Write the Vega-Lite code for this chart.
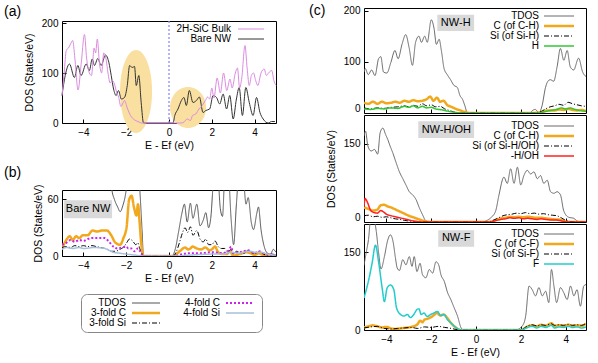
{
"$schema": "https://vega.github.io/schema/vega-lite/v6.json",
"padding": {"left": 3, "top": 3, "right": 2, "bottom": 2},
"config": {
  "font": "Liberation Sans",
  "view": {"stroke": "#000", "strokeWidth": 1},
  "axis": {"domain": false, "grid": false, "tickColor": "#000", "tickSize": -4, "labelPadding": 8, "labelFontSize": 10, "labelColor": "#000", "titleFontSize": 10.5, "titleFontWeight": "normal", "titleColor": "#000"},
  "legend": {"labelFontSize": 10, "labelColor": "#000"},
  "title": {"fontSize": 14, "fontWeight": "normal", "anchor": "start", "color": "#000", "frame": "group"}
},
"resolve": {"scale": {"x": "independent", "y": "independent", "color": "independent", "strokeDash": "independent", "strokeWidth": "independent"}},
"spacing": 29,
"hconcat": [
 {
  "vconcat": [
   {
    "vconcat": [
     {"width": 214, "height": 1, "view": {"stroke": null}, "data": {"values": [{}]}, "mark": {"type": "rect", "opacity": 0}, "encoding": {}},
     {
      "title": {"text": "(a)", "dx": -58, "offset": -1},
      "width": 214, "height": 102,
      "layer": [
       {"data": {"values": [{}]},
        "mark": {"type": "point", "shape": "M0.386,0C0.386,0.552 0.213,1 0,1C-0.213,1 -0.386,0.552 -0.386,0C-0.386,-0.552 -0.213,-1 0,-1C0.213,-1 0.386,-0.552 0.386,0Z", "filled": true, "color": "#f9e0a0", "opacity": 1, "size": 6889, "strokeWidth": 0},
        "encoding": {
          "x": {"datum": -1.54, "type": "quantitative", "scale": {"domain": [-5, 5], "nice": false}, "axis": {"values": [-4, -2, 0, 2, 4], "title": "E - Ef (eV)", "titlePadding": 3}},
          "y": {"datum": 63, "type": "quantitative", "scale": {"domain": [0, 204], "nice": false}, "axis": {"values": [0, 50, 100, 150, 200], "title": "DOS (States/eV)", "titlePadding": 7}}}},
       {"data": {"values": [{}]},
        "mark": {"type": "point", "shape": "M0.878,0C0.878,0.552 0.485,1 0,1C-0.485,1 -0.878,0.552 -0.878,0C-0.878,-0.552 -0.485,-1 0,-1C0.485,-1 0.878,-0.552 0.878,0Z", "filled": true, "color": "#f9e0a0", "opacity": 1, "size": 1681, "strokeWidth": 0},
        "encoding": {"x": {"datum": 0.89, "type": "quantitative"}, "y": {"datum": 31, "type": "quantitative"}}},
       {"data": {"values": [{}]},
        "mark": {"type": "rule", "color": "#8a8aff", "strokeDash": [2, 2], "strokeWidth": 1.3},
        "encoding": {"x": {"datum": 0, "type": "quantitative"}}},
       {"data": {"name": "a"},
        "mark": {"type": "line", "interpolate": "monotone", "strokeWidth": 1},
        "encoding": {
          "x": {"field": "x", "type": "quantitative"},
          "y": {"field": "y", "type": "quantitative"},
          "color": {"field": "s", "type": "nominal", "scale": {"domain": ["2H-SiC Bulk", "Bare NW"], "range": ["#dc8ce0", "#333333"]},
            "legend": {"title": null, "orient": "none", "legendX": 112, "legendY": 3, "labelAlign": "right", "labelOffset": -25, "symbolOffset": 72, "symbolSize": 49, "symbolType": "M-3.714,0L3.714,0", "rowPadding": 0, "symbolStrokeWidth": 1}}}}
      ]
     }
    ],
    "spacing": -5,
    "resolve": {"scale": {"x": "independent", "y": "independent", "color": "independent"}}
   },
   {
    "title": {"text": "(b)", "dx": -58, "offset": 4},
    "width": 214, "height": 66,
    "layer": [
     {"data": {"values": [{}]},
      "mark": {"type": "rule", "color": "#6f6fff", "strokeDash": [2, 2], "strokeWidth": 1},
      "encoding": {
        "x": {"datum": 0, "type": "quantitative", "scale": {"domain": [-5, 5], "nice": false}, "axis": {"values": [-4, -2, 0, 2, 4], "title": "E - Ef (eV)", "titlePadding": 3}},
        "y": {"datum": 0, "type": "quantitative", "scale": {"domain": [0, 70], "nice": false}, "axis": {"values": [0, 20, 40, 60], "title": "DOS (States/eV)", "titlePadding": 3}}}},
     {"data": {"name": "b"},
      "mark": {"type": "line", "interpolate": "monotone", "clip": true},
      "encoding": {
        "x": {"field": "x", "type": "quantitative"},
        "y": {"field": "y", "type": "quantitative"},
        "color": {"field": "s", "type": "nominal", "scale": {"domain": ["TDOS", "3-fold C", "3-fold Si", "4-fold C", "4-fold Si"], "range": ["#555555", "#f2a81d", "#000000", "#cc22ee", "#a9c0dc"]},
          "legend": {"title": null, "orient": "none", "legendX": 19, "legendY": 104, "columns": 2, "columnPadding": 14, "labelAlign": "right", "labelOffset": -25, "symbolOffset": 56, "symbolSize": 49, "symbolType": "M-4,0L4,0", "rowPadding": -2, "padding": 4, "strokeColor": "#888888", "cornerRadius": 6, "fillColor": "#ffffff"}},
        "strokeDash": {"field": "s", "type": "nominal", "scale": {"domain": ["TDOS", "3-fold C", "3-fold Si", "4-fold C", "4-fold Si"], "range": [[1, 0], [1, 0], [5, 2, 1, 2], [2, 2], [1, 0]]},
          "legend": {"title": null, "orient": "none", "legendX": 19, "legendY": 104, "columns": 2, "columnPadding": 14, "labelAlign": "right", "labelOffset": -25, "symbolOffset": 56, "symbolSize": 49, "symbolType": "M-4,0L4,0", "rowPadding": -2, "padding": 4, "strokeColor": "#888888", "cornerRadius": 6, "fillColor": "#ffffff"}},
        "strokeWidth": {"field": "s", "type": "nominal", "scale": {"type": "ordinal", "domain": ["TDOS", "3-fold C", "3-fold Si", "4-fold C", "4-fold Si"], "range": [1, 2.5, 1, 2, 1.5]},
          "legend": {"title": null, "orient": "none", "legendX": 19, "legendY": 104, "columns": 2, "columnPadding": 14, "labelAlign": "right", "labelOffset": -25, "symbolOffset": 56, "symbolSize": 49, "symbolType": "M-4,0L4,0", "rowPadding": -2, "padding": 4, "strokeColor": "#888888", "cornerRadius": 6, "fillColor": "#ffffff"}}}},
     {"data": {"values": [{}]},
      "mark": {"type": "rect", "color": "#d9d9d9"},
      "encoding": {"x": {"datum": -4.9, "type": "quantitative"}, "x2": {"datum": -2.66}, "y": {"datum": 59, "type": "quantitative"}, "y2": {"datum": 40}}},
     {"data": {"values": [{}]},
      "mark": {"type": "text", "fontSize": 11, "color": "#000"},
      "encoding": {"x": {"datum": -3.78, "type": "quantitative"}, "y": {"datum": 49.5, "type": "quantitative"}, "text": {"value": "Bare NW"}}}
    ]
   }
  ],
  "spacing": 14,
  "resolve": {"scale": {"x": "independent", "y": "independent", "color": "independent", "strokeDash": "independent", "strokeWidth": "independent"}}
 },
 {
  "vconcat": [
   {
    "width": 222, "height": 105,
    "layer": [
     {"data": {"values": [{}]},
      "mark": {"type": "rule", "color": "#8a8aff", "strokeDash": [2, 2], "strokeWidth": 1},
      "encoding": {
        "x": {"datum": 0, "type": "quantitative", "scale": {"domain": [-5, 4.9], "nice": false}, "axis": {"values": [-4, -2, 0, 2, 4], "labels": false, "title": null, "labelPadding": 0}},
        "y": {"datum": 0, "type": "quantitative", "scale": {"domain": [0, 205], "nice": false}, "axis": {"values": [0, 50, 100, 150, 200], "title": null, "labelFlush": true, "labelFlushOffset": 0}}}},
     {"data": {"values": [{}]},
      "mark": {"type": "text", "fontSize": 14, "align": "left", "baseline": "middle", "color": "#000"},
      "encoding": {"x": {"datum": -7.45, "type": "quantitative"}, "y": {"datum": 199, "type": "quantitative"}, "text": {"value": "(c)"}}},
     {"data": {"name": "c1"},
      "mark": {"type": "line", "interpolate": "monotone", "clip": true},
      "encoding": {
        "x": {"field": "x", "type": "quantitative"},
        "y": {"field": "y", "type": "quantitative"},
        "color": {"field": "s", "type": "nominal", "scale": {"domain": ["TDOS", "C (of C-H)", "Si (of Si-H)", "H"], "range": ["#6a6a6a", "#f2a81d", "#000000", "#33c633"]},
          "legend": {"title": null, "orient": "none", "legendX": 105, "legendY": 3, "labelAlign": "right", "labelOffset": -25, "symbolOffset": 85, "symbolSize": 49, "symbolType": "M-4.286,0L4.286,0", "rowPadding": -1}},
        "strokeDash": {"field": "s", "type": "nominal", "scale": {"domain": ["TDOS", "C (of C-H)", "Si (of Si-H)", "H"], "range": [[1, 0], [1, 0], [5, 2, 1, 2], [1, 0]]},
          "legend": {"title": null, "orient": "none", "legendX": 105, "legendY": 3, "labelAlign": "right", "labelOffset": -25, "symbolOffset": 85, "symbolSize": 49, "symbolType": "M-4.286,0L4.286,0", "rowPadding": -1}},
        "strokeWidth": {"field": "s", "type": "nominal", "scale": {"type": "ordinal", "domain": ["TDOS", "C (of C-H)", "Si (of Si-H)", "H"], "range": [1, 2.5, 1, 1.5]},
          "legend": {"title": null, "orient": "none", "legendX": 105, "legendY": 3, "labelAlign": "right", "labelOffset": -25, "symbolOffset": 85, "symbolSize": 49, "symbolType": "M-4.286,0L4.286,0", "rowPadding": -1}}}},
     {"data": {"values": [{}]},
      "mark": {"type": "rect", "color": "#d9d9d9"},
      "encoding": {"x": {"datum": -1.73, "type": "quantitative"}, "x2": {"datum": -0.09}, "y": {"datum": 192, "type": "quantitative"}, "y2": {"datum": 160}}},
     {"data": {"values": [{}]},
      "mark": {"type": "text", "fontSize": 11, "color": "#000"},
      "encoding": {"x": {"datum": -0.91, "type": "quantitative"}, "y": {"datum": 176, "type": "quantitative"}, "text": {"value": "NW-H"}}}
    ]
   },
   {
    "width": 222, "height": 107,
    "layer": [
     {"data": {"values": [{}]},
      "mark": {"type": "rule", "color": "#8a8aff", "strokeDash": [2, 2], "strokeWidth": 1},
      "encoding": {
        "x": {"datum": 0, "type": "quantitative", "scale": {"domain": [-5, 4.9], "nice": false}, "axis": {"values": [-4, -2, 0, 2, 4], "labels": false, "title": null, "labelPadding": 0}},
        "y": {"datum": 0, "type": "quantitative", "scale": {"domain": [0, 205], "nice": false}, "axis": {"values": [0, 50, 100, 150], "title": "DOS (States/eV)", "titlePadding": 7, "labelFlush": true, "labelFlushOffset": 0}}}},
     {"data": {"name": "c2"},
      "mark": {"type": "line", "interpolate": "monotone", "clip": true},
      "encoding": {
        "x": {"field": "x", "type": "quantitative"},
        "y": {"field": "y", "type": "quantitative"},
        "color": {"field": "s", "type": "nominal", "scale": {"domain": ["TDOS", "C (of C-H)", "Si (of Si-H/OH)", "-H/OH"], "range": ["#6a6a6a", "#f2a81d", "#000000", "#ff2020"]},
          "legend": {"title": null, "orient": "none", "legendX": 105, "legendY": 6, "labelAlign": "right", "labelOffset": -25, "symbolOffset": 85, "symbolSize": 49, "symbolType": "M-4.286,0L4.286,0", "rowPadding": 0}},
        "strokeDash": {"field": "s", "type": "nominal", "scale": {"domain": ["TDOS", "C (of C-H)", "Si (of Si-H/OH)", "-H/OH"], "range": [[1, 0], [1, 0], [5, 2, 1, 2], [1, 0]]},
          "legend": {"title": null, "orient": "none", "legendX": 105, "legendY": 6, "labelAlign": "right", "labelOffset": -25, "symbolOffset": 85, "symbolSize": 49, "symbolType": "M-4.286,0L4.286,0", "rowPadding": 0}},
        "strokeWidth": {"field": "s", "type": "nominal", "scale": {"type": "ordinal", "domain": ["TDOS", "C (of C-H)", "Si (of Si-H/OH)", "-H/OH"], "range": [1, 2.5, 1, 1.5]},
          "legend": {"title": null, "orient": "none", "legendX": 105, "legendY": 6, "labelAlign": "right", "labelOffset": -25, "symbolOffset": 85, "symbolSize": 49, "symbolType": "M-4.286,0L4.286,0", "rowPadding": 0}}}},
     {"data": {"values": [{}]},
      "mark": {"type": "rect", "color": "#d9d9d9"},
      "encoding": {"x": {"datum": -2.58, "type": "quantitative"}, "x2": {"datum": -0.09}, "y": {"datum": 193, "type": "quantitative"}, "y2": {"datum": 161}}},
     {"data": {"values": [{}]},
      "mark": {"type": "text", "fontSize": 11, "color": "#000"},
      "encoding": {"x": {"datum": -1.33, "type": "quantitative"}, "y": {"datum": 177, "type": "quantitative"}, "text": {"value": "NW-H/OH"}}}
    ]
   },
   {
    "width": 222, "height": 106,
    "layer": [
     {"data": {"values": [{}]},
      "mark": {"type": "rule", "color": "#8a8aff", "strokeDash": [2, 2], "strokeWidth": 1},
      "encoding": {
        "x": {"datum": 0, "type": "quantitative", "scale": {"domain": [-5, 4.9], "nice": false}, "axis": {"values": [-4, -2, 0, 2, 4], "title": "E - Ef (eV)", "titlePadding": 3}},
        "y": {"datum": 0, "type": "quantitative", "scale": {"domain": [0, 205], "nice": false}, "axis": {"values": [0, 50, 100, 150], "title": null}}}},
     {"data": {"name": "c3"},
      "mark": {"type": "line", "interpolate": "monotone", "clip": true},
      "encoding": {
        "x": {"field": "x", "type": "quantitative"},
        "y": {"field": "y", "type": "quantitative"},
        "color": {"field": "s", "type": "nominal", "scale": {"domain": ["TDOS", "C (of C-F)", "Si (of Si-F)", "F"], "range": ["#6a6a6a", "#f2a81d", "#000000", "#22cccc"]},
          "legend": {"title": null, "orient": "none", "legendX": 105, "legendY": 5, "labelAlign": "right", "labelOffset": -25, "symbolOffset": 85, "symbolSize": 49, "symbolType": "M-4.286,0L4.286,0", "rowPadding": 0}},
        "strokeDash": {"field": "s", "type": "nominal", "scale": {"domain": ["TDOS", "C (of C-F)", "Si (of Si-F)", "F"], "range": [[1, 0], [1, 0], [5, 2, 1, 2], [1, 0]]},
          "legend": {"title": null, "orient": "none", "legendX": 105, "legendY": 5, "labelAlign": "right", "labelOffset": -25, "symbolOffset": 85, "symbolSize": 49, "symbolType": "M-4.286,0L4.286,0", "rowPadding": 0}},
        "strokeWidth": {"field": "s", "type": "nominal", "scale": {"type": "ordinal", "domain": ["TDOS", "C (of C-F)", "Si (of Si-F)", "F"], "range": [1, 2.5, 1, 1.5]},
          "legend": {"title": null, "orient": "none", "legendX": 105, "legendY": 5, "labelAlign": "right", "labelOffset": -25, "symbolOffset": 85, "symbolSize": 49, "symbolType": "M-4.286,0L4.286,0", "rowPadding": 0}}}},
     {"data": {"values": [{}]},
      "mark": {"type": "rect", "color": "#d9d9d9"},
      "encoding": {"x": {"datum": -1.69, "type": "quantitative"}, "x2": {"datum": -0.09}, "y": {"datum": 193, "type": "quantitative"}, "y2": {"datum": 161}}},
     {"data": {"values": [{}]},
      "mark": {"type": "text", "fontSize": 11, "color": "#000"},
      "encoding": {"x": {"datum": -0.89, "type": "quantitative"}, "y": {"datum": 177, "type": "quantitative"}, "text": {"value": "NW-F"}}}
    ]
   }
  ],
  "spacing": 0,
  "resolve": {"scale": {"x": "independent", "y": "independent", "color": "independent", "strokeDash": "independent", "strokeWidth": "independent"}}
 }
],
"datasets": {
 "a": [
  {"x":-5.0,"y":55,"s":"Bare NW"},{"x":-4.85,"y":95,"s":"Bare NW"},{"x":-4.65,"y":118,"s":"Bare NW"},{"x":-4.42,"y":91,"s":"Bare NW"},{"x":-4.26,"y":115,"s":"Bare NW"},{"x":-4.11,"y":95,"s":"Bare NW"},{"x":-3.87,"y":118,"s":"Bare NW"},{"x":-3.72,"y":105,"s":"Bare NW"},{"x":-3.59,"y":128,"s":"Bare NW"},{"x":-3.48,"y":115,"s":"Bare NW"},{"x":-3.33,"y":129,"s":"Bare NW"},{"x":-3.17,"y":115,"s":"Bare NW"},{"x":-2.97,"y":136,"s":"Bare NW"},{"x":-2.81,"y":121,"s":"Bare NW"},{"x":-2.7,"y":95,"s":"Bare NW"},{"x":-2.59,"y":68,"s":"Bare NW"},{"x":-2.47,"y":55,"s":"Bare NW"},{"x":-2.36,"y":65,"s":"Bare NW"},{"x":-2.23,"y":48,"s":"Bare NW"},{"x":-2.08,"y":51,"s":"Bare NW"},{"x":-1.95,"y":75,"s":"Bare NW"},{"x":-1.84,"y":115,"s":"Bare NW"},{"x":-1.72,"y":111,"s":"Bare NW"},{"x":-1.61,"y":113,"s":"Bare NW"},{"x":-1.53,"y":75,"s":"Bare NW"},{"x":-1.41,"y":95,"s":"Bare NW"},{"x":-1.3,"y":41,"s":"Bare NW"},{"x":-1.19,"y":0,"s":"Bare NW"},{"x":0.19,"y":0,"s":"Bare NW"},{"x":0.27,"y":15,"s":"Bare NW"},{"x":0.42,"y":28,"s":"Bare NW"},{"x":0.58,"y":45,"s":"Bare NW"},{"x":0.7,"y":51,"s":"Bare NW"},{"x":0.81,"y":35,"s":"Bare NW"},{"x":0.95,"y":65,"s":"Bare NW"},{"x":1.12,"y":41,"s":"Bare NW"},{"x":1.28,"y":45,"s":"Bare NW"},{"x":1.42,"y":52,"s":"Bare NW"},{"x":1.59,"y":21,"s":"Bare NW"},{"x":1.72,"y":25,"s":"Bare NW"},{"x":1.9,"y":28,"s":"Bare NW"},{"x":2.06,"y":55,"s":"Bare NW"},{"x":2.22,"y":51,"s":"Bare NW"},{"x":2.37,"y":38,"s":"Bare NW"},{"x":2.53,"y":58,"s":"Bare NW"},{"x":2.69,"y":28,"s":"Bare NW"},{"x":2.84,"y":55,"s":"Bare NW"},{"x":3.0,"y":8,"s":"Bare NW"},{"x":3.15,"y":48,"s":"Bare NW"},{"x":3.28,"y":71,"s":"Bare NW"},{"x":3.43,"y":15,"s":"Bare NW"},{"x":3.59,"y":71,"s":"Bare NW"},{"x":3.75,"y":41,"s":"Bare NW"},{"x":3.93,"y":15,"s":"Bare NW"},{"x":4.09,"y":51,"s":"Bare NW"},{"x":4.25,"y":21,"s":"Bare NW"},{"x":4.4,"y":8,"s":"Bare NW"},{"x":4.64,"y":0,"s":"Bare NW"},{"x":4.79,"y":3,"s":"Bare NW"},{"x":4.95,"y":3,"s":"Bare NW"},
  {"x":-5.0,"y":55,"s":"2H-SiC Bulk"},{"x":-4.9,"y":100,"s":"2H-SiC Bulk"},{"x":-4.8,"y":145,"s":"2H-SiC Bulk"},{"x":-4.7,"y":150,"s":"2H-SiC Bulk"},{"x":-4.6,"y":158,"s":"2H-SiC Bulk"},{"x":-4.5,"y":165,"s":"2H-SiC Bulk"},{"x":-4.4,"y":130,"s":"2H-SiC Bulk"},{"x":-4.25,"y":66,"s":"2H-SiC Bulk"},{"x":-4.1,"y":120,"s":"2H-SiC Bulk"},{"x":-3.95,"y":177,"s":"2H-SiC Bulk"},{"x":-3.85,"y":130,"s":"2H-SiC Bulk"},{"x":-3.72,"y":100,"s":"2H-SiC Bulk"},{"x":-3.62,"y":95,"s":"2H-SiC Bulk"},{"x":-3.5,"y":150,"s":"2H-SiC Bulk"},{"x":-3.43,"y":140,"s":"2H-SiC Bulk"},{"x":-3.35,"y":168,"s":"2H-SiC Bulk"},{"x":-3.25,"y":120,"s":"2H-SiC Bulk"},{"x":-3.15,"y":100,"s":"2H-SiC Bulk"},{"x":-3.05,"y":140,"s":"2H-SiC Bulk"},{"x":-2.95,"y":130,"s":"2H-SiC Bulk"},{"x":-2.85,"y":100,"s":"2H-SiC Bulk"},{"x":-2.75,"y":80,"s":"2H-SiC Bulk"},{"x":-2.65,"y":85,"s":"2H-SiC Bulk"},{"x":-2.55,"y":78,"s":"2H-SiC Bulk"},{"x":-2.45,"y":62,"s":"2H-SiC Bulk"},{"x":-2.35,"y":51,"s":"2H-SiC Bulk"},{"x":-2.25,"y":33,"s":"2H-SiC Bulk"},{"x":-2.15,"y":40,"s":"2H-SiC Bulk"},{"x":-2.08,"y":45,"s":"2H-SiC Bulk"},{"x":-1.95,"y":30,"s":"2H-SiC Bulk"},{"x":-1.8,"y":15,"s":"2H-SiC Bulk"},{"x":-1.6,"y":6,"s":"2H-SiC Bulk"},{"x":-1.4,"y":2,"s":"2H-SiC Bulk"},{"x":-1.3,"y":0,"s":"2H-SiC Bulk"},{"x":0.6,"y":0,"s":"2H-SiC Bulk"},{"x":0.7,"y":2,"s":"2H-SiC Bulk"},{"x":0.85,"y":8,"s":"2H-SiC Bulk"},{"x":1.0,"y":5,"s":"2H-SiC Bulk"},{"x":1.1,"y":15,"s":"2H-SiC Bulk"},{"x":1.25,"y":18,"s":"2H-SiC Bulk"},{"x":1.4,"y":28,"s":"2H-SiC Bulk"},{"x":1.55,"y":35,"s":"2H-SiC Bulk"},{"x":1.7,"y":45,"s":"2H-SiC Bulk"},{"x":1.8,"y":52,"s":"2H-SiC Bulk"},{"x":1.9,"y":48,"s":"2H-SiC Bulk"},{"x":2.0,"y":70,"s":"2H-SiC Bulk"},{"x":2.1,"y":50,"s":"2H-SiC Bulk"},{"x":2.25,"y":90,"s":"2H-SiC Bulk"},{"x":2.4,"y":60,"s":"2H-SiC Bulk"},{"x":2.55,"y":100,"s":"2H-SiC Bulk"},{"x":2.7,"y":65,"s":"2H-SiC Bulk"},{"x":2.85,"y":88,"s":"2H-SiC Bulk"},{"x":2.95,"y":70,"s":"2H-SiC Bulk"},{"x":3.1,"y":100,"s":"2H-SiC Bulk"},{"x":3.2,"y":110,"s":"2H-SiC Bulk"},{"x":3.3,"y":70,"s":"2H-SiC Bulk"},{"x":3.4,"y":90,"s":"2H-SiC Bulk"},{"x":3.55,"y":155,"s":"2H-SiC Bulk"},{"x":3.65,"y":110,"s":"2H-SiC Bulk"},{"x":3.75,"y":75,"s":"2H-SiC Bulk"},{"x":3.85,"y":95,"s":"2H-SiC Bulk"},{"x":3.95,"y":100,"s":"2H-SiC Bulk"},{"x":4.05,"y":85,"s":"2H-SiC Bulk"},{"x":4.15,"y":75,"s":"2H-SiC Bulk"},{"x":4.3,"y":100,"s":"2H-SiC Bulk"},{"x":4.45,"y":108,"s":"2H-SiC Bulk"},{"x":4.55,"y":95,"s":"2H-SiC Bulk"},{"x":4.65,"y":100,"s":"2H-SiC Bulk"},{"x":4.8,"y":105,"s":"2H-SiC Bulk"},{"x":4.9,"y":85,"s":"2H-SiC Bulk"},{"x":5.0,"y":75,"s":"2H-SiC Bulk"}
 ],
 "b": [
  {"x":-5,"y":110,"s":"TDOS"},{"x":-4.5,"y":120,"s":"TDOS"},{"x":-4,"y":115,"s":"TDOS"},{"x":-3.5,"y":125,"s":"TDOS"},{"x":-3,"y":130,"s":"TDOS"},{"x":-2.8,"y":110,"s":"TDOS"},{"x":-2.68,"y":72,"s":"TDOS"},{"x":-2.55,"y":60,"s":"TDOS"},{"x":-2.4,"y":52,"s":"TDOS"},{"x":-2.28,"y":47,"s":"TDOS"},{"x":-2.15,"y":54,"s":"TDOS"},{"x":-2.05,"y":63,"s":"TDOS"},{"x":-1.97,"y":75,"s":"TDOS"},{"x":-1.8,"y":115,"s":"TDOS"},{"x":-1.6,"y":110,"s":"TDOS"},{"x":-1.45,"y":90,"s":"TDOS"},{"x":-1.37,"y":72,"s":"TDOS"},{"x":-1.3,"y":45,"s":"TDOS"},{"x":-1.26,"y":28,"s":"TDOS"},{"x":-1.19,"y":0,"s":"TDOS"},{"x":0.14,"y":0,"s":"TDOS"},{"x":0.3,"y":8,"s":"TDOS"},{"x":0.45,"y":26,"s":"TDOS"},{"x":0.6,"y":45,"s":"TDOS"},{"x":0.72,"y":55,"s":"TDOS"},{"x":0.85,"y":36,"s":"TDOS"},{"x":1.0,"y":56,"s":"TDOS"},{"x":1.12,"y":40,"s":"TDOS"},{"x":1.3,"y":55,"s":"TDOS"},{"x":1.45,"y":32,"s":"TDOS"},{"x":1.6,"y":38,"s":"TDOS"},{"x":1.72,"y":46,"s":"TDOS"},{"x":1.85,"y":30,"s":"TDOS"},{"x":1.95,"y":40,"s":"TDOS"},{"x":2.1,"y":85,"s":"TDOS"},{"x":2.25,"y":95,"s":"TDOS"},{"x":2.4,"y":50,"s":"TDOS"},{"x":2.5,"y":42,"s":"TDOS"},{"x":2.62,"y":90,"s":"TDOS"},{"x":2.78,"y":85,"s":"TDOS"},{"x":2.9,"y":40,"s":"TDOS"},{"x":3.02,"y":12,"s":"TDOS"},{"x":3.15,"y":55,"s":"TDOS"},{"x":3.3,"y":95,"s":"TDOS"},{"x":3.45,"y":90,"s":"TDOS"},{"x":3.6,"y":55,"s":"TDOS"},{"x":3.7,"y":62,"s":"TDOS"},{"x":3.85,"y":35,"s":"TDOS"},{"x":3.95,"y":28,"s":"TDOS"},{"x":4.1,"y":45,"s":"TDOS"},{"x":4.18,"y":52,"s":"TDOS"},{"x":4.3,"y":28,"s":"TDOS"},{"x":4.45,"y":10,"s":"TDOS"},{"x":4.6,"y":3,"s":"TDOS"},{"x":4.75,"y":2,"s":"TDOS"},{"x":4.87,"y":7,"s":"TDOS"},{"x":5.0,"y":4,"s":"TDOS"},
  {"x":-5,"y":8,"s":"3-fold C"},{"x":-4.8,"y":17,"s":"3-fold C"},{"x":-4.64,"y":21,"s":"3-fold C"},{"x":-4.5,"y":17,"s":"3-fold C"},{"x":-4.34,"y":21,"s":"3-fold C"},{"x":-4.19,"y":19,"s":"3-fold C"},{"x":-4.03,"y":22,"s":"3-fold C"},{"x":-3.8,"y":22,"s":"3-fold C"},{"x":-3.58,"y":27,"s":"3-fold C"},{"x":-3.35,"y":26,"s":"3-fold C"},{"x":-3.12,"y":27,"s":"3-fold C"},{"x":-2.9,"y":27,"s":"3-fold C"},{"x":-2.7,"y":22,"s":"3-fold C"},{"x":-2.5,"y":14,"s":"3-fold C"},{"x":-2.28,"y":12,"s":"3-fold C"},{"x":-2.13,"y":19,"s":"3-fold C"},{"x":-1.98,"y":31,"s":"3-fold C"},{"x":-1.87,"y":59,"s":"3-fold C"},{"x":-1.75,"y":64,"s":"3-fold C"},{"x":-1.64,"y":52,"s":"3-fold C"},{"x":-1.52,"y":43,"s":"3-fold C"},{"x":-1.45,"y":55,"s":"3-fold C"},{"x":-1.37,"y":35,"s":"3-fold C"},{"x":-1.3,"y":14,"s":"3-fold C"},{"x":-1.19,"y":0,"s":"3-fold C"},{"x":0.2,"y":0,"s":"3-fold C"},{"x":0.5,"y":5,"s":"3-fold C"},{"x":0.75,"y":9,"s":"3-fold C"},{"x":0.9,"y":7,"s":"3-fold C"},{"x":1.0,"y":8,"s":"3-fold C"},{"x":1.1,"y":10,"s":"3-fold C"},{"x":1.3,"y":8,"s":"3-fold C"},{"x":1.5,"y":7,"s":"3-fold C"},{"x":1.7,"y":9,"s":"3-fold C"},{"x":1.9,"y":6,"s":"3-fold C"},{"x":2.0,"y":7,"s":"3-fold C"},{"x":2.15,"y":10,"s":"3-fold C"},{"x":2.3,"y":4,"s":"3-fold C"},{"x":2.5,"y":2,"s":"3-fold C"},{"x":2.7,"y":2,"s":"3-fold C"},{"x":2.85,"y":5,"s":"3-fold C"},{"x":3.0,"y":0.5,"s":"3-fold C"},{"x":3.3,"y":2,"s":"3-fold C"},{"x":3.6,"y":4,"s":"3-fold C"},{"x":3.8,"y":3,"s":"3-fold C"},{"x":4.0,"y":1,"s":"3-fold C"},{"x":4.2,"y":3,"s":"3-fold C"},{"x":4.4,"y":1,"s":"3-fold C"},{"x":4.7,"y":0.5,"s":"3-fold C"},{"x":5.0,"y":0.5,"s":"3-fold C"},
  {"x":-5,"y":9,"s":"3-fold Si"},{"x":-4.8,"y":10,"s":"3-fold Si"},{"x":-4.6,"y":9,"s":"3-fold Si"},{"x":-4.4,"y":11,"s":"3-fold Si"},{"x":-4.2,"y":10,"s":"3-fold Si"},{"x":-4.0,"y":11,"s":"3-fold Si"},{"x":-3.8,"y":10,"s":"3-fold Si"},{"x":-3.6,"y":11,"s":"3-fold Si"},{"x":-3.4,"y":10,"s":"3-fold Si"},{"x":-3.2,"y":9,"s":"3-fold Si"},{"x":-3.0,"y":8,"s":"3-fold Si"},{"x":-2.85,"y":7,"s":"3-fold Si"},{"x":-2.7,"y":5,"s":"3-fold Si"},{"x":-2.5,"y":5,"s":"3-fold Si"},{"x":-2.3,"y":7,"s":"3-fold Si"},{"x":-2.1,"y":10,"s":"3-fold Si"},{"x":-1.95,"y":15,"s":"3-fold Si"},{"x":-1.85,"y":18,"s":"3-fold Si"},{"x":-1.7,"y":16,"s":"3-fold Si"},{"x":-1.55,"y":12,"s":"3-fold Si"},{"x":-1.45,"y":14,"s":"3-fold Si"},{"x":-1.37,"y":8,"s":"3-fold Si"},{"x":-1.25,"y":2,"s":"3-fold Si"},{"x":-1.19,"y":0,"s":"3-fold Si"},{"x":0.2,"y":0,"s":"3-fold Si"},{"x":0.35,"y":5,"s":"3-fold Si"},{"x":0.5,"y":15,"s":"3-fold Si"},{"x":0.62,"y":24,"s":"3-fold Si"},{"x":0.75,"y":30,"s":"3-fold Si"},{"x":0.87,"y":25,"s":"3-fold Si"},{"x":1.0,"y":31,"s":"3-fold Si"},{"x":1.12,"y":22,"s":"3-fold Si"},{"x":1.3,"y":27,"s":"3-fold Si"},{"x":1.45,"y":18,"s":"3-fold Si"},{"x":1.6,"y":15,"s":"3-fold Si"},{"x":1.72,"y":18,"s":"3-fold Si"},{"x":1.85,"y":12,"s":"3-fold Si"},{"x":2.0,"y":12,"s":"3-fold Si"},{"x":2.15,"y":16,"s":"3-fold Si"},{"x":2.3,"y":10,"s":"3-fold Si"},{"x":2.45,"y":8,"s":"3-fold Si"},{"x":2.6,"y":8,"s":"3-fold Si"},{"x":2.75,"y":4,"s":"3-fold Si"},{"x":2.9,"y":7,"s":"3-fold Si"},{"x":3.0,"y":2,"s":"3-fold Si"},{"x":3.15,"y":5,"s":"3-fold Si"},{"x":3.3,"y":4,"s":"3-fold Si"},{"x":3.5,"y":3,"s":"3-fold Si"},{"x":3.7,"y":6,"s":"3-fold Si"},{"x":3.9,"y":3,"s":"3-fold Si"},{"x":4.1,"y":4,"s":"3-fold Si"},{"x":4.25,"y":5,"s":"3-fold Si"},{"x":4.4,"y":2,"s":"3-fold Si"},{"x":4.6,"y":1,"s":"3-fold Si"},{"x":4.8,"y":2,"s":"3-fold Si"},{"x":5.0,"y":1,"s":"3-fold Si"},
  {"x":-5,"y":12,"s":"4-fold C"},{"x":-4.8,"y":14,"s":"4-fold C"},{"x":-4.6,"y":17,"s":"4-fold C"},{"x":-4.4,"y":15,"s":"4-fold C"},{"x":-4.2,"y":17,"s":"4-fold C"},{"x":-4.0,"y":16,"s":"4-fold C"},{"x":-3.8,"y":18,"s":"4-fold C"},{"x":-3.6,"y":19,"s":"4-fold C"},{"x":-3.4,"y":19,"s":"4-fold C"},{"x":-3.2,"y":19,"s":"4-fold C"},{"x":-3.0,"y":19,"s":"4-fold C"},{"x":-2.8,"y":15,"s":"4-fold C"},{"x":-2.6,"y":10,"s":"4-fold C"},{"x":-2.4,"y":8,"s":"4-fold C"},{"x":-2.2,"y":9,"s":"4-fold C"},{"x":-2.0,"y":10,"s":"4-fold C"},{"x":-1.9,"y":8,"s":"4-fold C"},{"x":-1.75,"y":8,"s":"4-fold C"},{"x":-1.6,"y":5,"s":"4-fold C"},{"x":-1.45,"y":8,"s":"4-fold C"},{"x":-1.35,"y":5,"s":"4-fold C"},{"x":-1.2,"y":0,"s":"4-fold C"},{"x":0.3,"y":0,"s":"4-fold C"},{"x":0.6,"y":2,"s":"4-fold C"},{"x":1.0,"y":3,"s":"4-fold C"},{"x":1.5,"y":3,"s":"4-fold C"},{"x":2.0,"y":4,"s":"4-fold C"},{"x":2.5,"y":3,"s":"4-fold C"},{"x":2.8,"y":6,"s":"4-fold C"},{"x":2.9,"y":10,"s":"4-fold C"},{"x":3.0,"y":3,"s":"4-fold C"},{"x":3.3,"y":4,"s":"4-fold C"},{"x":3.7,"y":6,"s":"4-fold C"},{"x":4.0,"y":3,"s":"4-fold C"},{"x":4.2,"y":5,"s":"4-fold C"},{"x":4.5,"y":2,"s":"4-fold C"},{"x":5.0,"y":1,"s":"4-fold C"},
  {"x":-5,"y":7,"s":"4-fold Si"},{"x":-4.8,"y":9,"s":"4-fold Si"},{"x":-4.5,"y":8,"s":"4-fold Si"},{"x":-4.2,"y":9,"s":"4-fold Si"},{"x":-4.0,"y":8,"s":"4-fold Si"},{"x":-3.5,"y":9,"s":"4-fold Si"},{"x":-3.0,"y":8,"s":"4-fold Si"},{"x":-2.8,"y":6,"s":"4-fold Si"},{"x":-2.6,"y":4,"s":"4-fold Si"},{"x":-2.3,"y":3,"s":"4-fold Si"},{"x":-2.0,"y":2,"s":"4-fold Si"},{"x":-1.6,"y":1,"s":"4-fold Si"},{"x":-1.2,"y":0,"s":"4-fold Si"},{"x":0.3,"y":0,"s":"4-fold Si"},{"x":1.0,"y":1,"s":"4-fold Si"},{"x":2.0,"y":2,"s":"4-fold Si"},{"x":2.5,"y":2,"s":"4-fold Si"},{"x":2.9,"y":4,"s":"4-fold Si"},{"x":3.2,"y":3,"s":"4-fold Si"},{"x":3.5,"y":4,"s":"4-fold Si"},{"x":3.8,"y":5,"s":"4-fold Si"},{"x":4.0,"y":4,"s":"4-fold Si"},{"x":4.3,"y":4,"s":"4-fold Si"},{"x":4.6,"y":2,"s":"4-fold Si"},{"x":5.0,"y":1,"s":"4-fold Si"}
 ],
 "c1": [
  {"x":-5,"y":80,"s":"TDOS"},{"x":-4.95,"y":87,"s":"TDOS"},{"x":-4.81,"y":75,"s":"TDOS"},{"x":-4.66,"y":84,"s":"TDOS"},{"x":-4.51,"y":73,"s":"TDOS"},{"x":-4.35,"y":106,"s":"TDOS"},{"x":-4.25,"y":110,"s":"TDOS"},{"x":-4.13,"y":80,"s":"TDOS"},{"x":-3.98,"y":78,"s":"TDOS"},{"x":-3.8,"y":99,"s":"TDOS"},{"x":-3.62,"y":122,"s":"TDOS"},{"x":-3.48,"y":106,"s":"TDOS"},{"x":-3.3,"y":135,"s":"TDOS"},{"x":-3.14,"y":153,"s":"TDOS"},{"x":-2.99,"y":128,"s":"TDOS"},{"x":-2.84,"y":93,"s":"TDOS"},{"x":-2.7,"y":138,"s":"TDOS"},{"x":-2.55,"y":150,"s":"TDOS"},{"x":-2.44,"y":138,"s":"TDOS"},{"x":-2.29,"y":150,"s":"TDOS"},{"x":-2.18,"y":138,"s":"TDOS"},{"x":-2.0,"y":182,"s":"TDOS"},{"x":-1.88,"y":166,"s":"TDOS"},{"x":-1.77,"y":134,"s":"TDOS"},{"x":-1.65,"y":144,"s":"TDOS"},{"x":-1.55,"y":122,"s":"TDOS"},{"x":-1.43,"y":87,"s":"TDOS"},{"x":-1.29,"y":75,"s":"TDOS"},{"x":-1.14,"y":65,"s":"TDOS"},{"x":-0.99,"y":54,"s":"TDOS"},{"x":-0.84,"y":50,"s":"TDOS"},{"x":-0.72,"y":34,"s":"TDOS"},{"x":-0.61,"y":27,"s":"TDOS"},{"x":-0.5,"y":14,"s":"TDOS"},{"x":-0.39,"y":0,"s":"TDOS"},{"x":2.41,"y":0,"s":"TDOS"},{"x":2.49,"y":4,"s":"TDOS"},{"x":2.64,"y":7,"s":"TDOS"},{"x":2.79,"y":1,"s":"TDOS"},{"x":2.94,"y":14,"s":"TDOS"},{"x":3.09,"y":49,"s":"TDOS"},{"x":3.2,"y":62,"s":"TDOS"},{"x":3.31,"y":65,"s":"TDOS"},{"x":3.46,"y":62,"s":"TDOS"},{"x":3.61,"y":90,"s":"TDOS"},{"x":3.76,"y":126,"s":"TDOS"},{"x":3.91,"y":103,"s":"TDOS"},{"x":4.06,"y":122,"s":"TDOS"},{"x":4.2,"y":90,"s":"TDOS"},{"x":4.35,"y":84,"s":"TDOS"},{"x":4.57,"y":107,"s":"TDOS"},{"x":4.75,"y":80,"s":"TDOS"},{"x":4.9,"y":71,"s":"TDOS"},
  {"x":-5,"y":20,"s":"C (of C-H)"},{"x":-4.8,"y":18,"s":"C (of C-H)"},{"x":-4.6,"y":22,"s":"C (of C-H)"},{"x":-4.4,"y":18,"s":"C (of C-H)"},{"x":-4.2,"y":22,"s":"C (of C-H)"},{"x":-4.0,"y":19,"s":"C (of C-H)"},{"x":-3.8,"y":20,"s":"C (of C-H)"},{"x":-3.6,"y":22,"s":"C (of C-H)"},{"x":-3.4,"y":20,"s":"C (of C-H)"},{"x":-3.2,"y":24,"s":"C (of C-H)"},{"x":-3.0,"y":22,"s":"C (of C-H)"},{"x":-2.8,"y":25,"s":"C (of C-H)"},{"x":-2.6,"y":23,"s":"C (of C-H)"},{"x":-2.4,"y":24,"s":"C (of C-H)"},{"x":-2.2,"y":27,"s":"C (of C-H)"},{"x":-2.05,"y":32,"s":"C (of C-H)"},{"x":-1.9,"y":24,"s":"C (of C-H)"},{"x":-1.75,"y":30,"s":"C (of C-H)"},{"x":-1.6,"y":22,"s":"C (of C-H)"},{"x":-1.45,"y":24,"s":"C (of C-H)"},{"x":-1.3,"y":16,"s":"C (of C-H)"},{"x":-1.1,"y":12,"s":"C (of C-H)"},{"x":-0.9,"y":8,"s":"C (of C-H)"},{"x":-0.7,"y":5,"s":"C (of C-H)"},{"x":-0.5,"y":2,"s":"C (of C-H)"},{"x":-0.3,"y":0,"s":"C (of C-H)"},{"x":2.5,"y":0,"s":"C (of C-H)"},{"x":2.8,"y":1,"s":"C (of C-H)"},{"x":3.0,"y":3,"s":"C (of C-H)"},{"x":3.2,"y":5,"s":"C (of C-H)"},{"x":3.5,"y":5,"s":"C (of C-H)"},{"x":3.7,"y":7,"s":"C (of C-H)"},{"x":3.9,"y":6,"s":"C (of C-H)"},{"x":4.1,"y":8,"s":"C (of C-H)"},{"x":4.3,"y":6,"s":"C (of C-H)"},{"x":4.5,"y":5,"s":"C (of C-H)"},{"x":4.7,"y":6,"s":"C (of C-H)"},{"x":4.9,"y":4,"s":"C (of C-H)"},
  {"x":-5,"y":10,"s":"Si (of Si-H)"},{"x":-4.7,"y":8,"s":"Si (of Si-H)"},{"x":-4.4,"y":10,"s":"Si (of Si-H)"},{"x":-4.1,"y":9,"s":"Si (of Si-H)"},{"x":-3.8,"y":11,"s":"Si (of Si-H)"},{"x":-3.5,"y":12,"s":"Si (of Si-H)"},{"x":-3.2,"y":14,"s":"Si (of Si-H)"},{"x":-3.0,"y":12,"s":"Si (of Si-H)"},{"x":-2.8,"y":15,"s":"Si (of Si-H)"},{"x":-2.6,"y":13,"s":"Si (of Si-H)"},{"x":-2.4,"y":18,"s":"Si (of Si-H)"},{"x":-2.2,"y":14,"s":"Si (of Si-H)"},{"x":-2.0,"y":16,"s":"Si (of Si-H)"},{"x":-1.8,"y":12,"s":"Si (of Si-H)"},{"x":-1.6,"y":13,"s":"Si (of Si-H)"},{"x":-1.4,"y":8,"s":"Si (of Si-H)"},{"x":-1.2,"y":5,"s":"Si (of Si-H)"},{"x":-1.0,"y":2,"s":"Si (of Si-H)"},{"x":-0.6,"y":0,"s":"Si (of Si-H)"},{"x":2.6,"y":0,"s":"Si (of Si-H)"},{"x":2.9,"y":3,"s":"Si (of Si-H)"},{"x":3.1,"y":8,"s":"Si (of Si-H)"},{"x":3.3,"y":12,"s":"Si (of Si-H)"},{"x":3.5,"y":14,"s":"Si (of Si-H)"},{"x":3.7,"y":17,"s":"Si (of Si-H)"},{"x":3.9,"y":15,"s":"Si (of Si-H)"},{"x":4.1,"y":21,"s":"Si (of Si-H)"},{"x":4.3,"y":18,"s":"Si (of Si-H)"},{"x":4.5,"y":16,"s":"Si (of Si-H)"},{"x":4.7,"y":14,"s":"Si (of Si-H)"},{"x":4.9,"y":13,"s":"Si (of Si-H)"},
  {"x":-5,"y":8,"s":"H"},{"x":-4.7,"y":7,"s":"H"},{"x":-4.4,"y":9,"s":"H"},{"x":-4.1,"y":8,"s":"H"},{"x":-3.8,"y":10,"s":"H"},{"x":-3.5,"y":9,"s":"H"},{"x":-3.2,"y":13,"s":"H"},{"x":-3.0,"y":11,"s":"H"},{"x":-2.8,"y":14,"s":"H"},{"x":-2.6,"y":10,"s":"H"},{"x":-2.4,"y":13,"s":"H"},{"x":-2.2,"y":10,"s":"H"},{"x":-2.0,"y":11,"s":"H"},{"x":-1.8,"y":8,"s":"H"},{"x":-1.5,"y":6,"s":"H"},{"x":-1.2,"y":3,"s":"H"},{"x":-0.9,"y":1,"s":"H"},{"x":-0.6,"y":0,"s":"H"},{"x":2.7,"y":0,"s":"H"},{"x":3.0,"y":2,"s":"H"},{"x":3.3,"y":5,"s":"H"},{"x":3.6,"y":7,"s":"H"},{"x":3.8,"y":10,"s":"H"},{"x":4.0,"y":8,"s":"H"},{"x":4.2,"y":10,"s":"H"},{"x":4.4,"y":7,"s":"H"},{"x":4.6,"y":5,"s":"H"},{"x":4.9,"y":3,"s":"H"}
 ],
 "c2": [
  {"x":-5,"y":165,"s":"TDOS"},{"x":-4.93,"y":174,"s":"TDOS"},{"x":-4.83,"y":146,"s":"TDOS"},{"x":-4.68,"y":136,"s":"TDOS"},{"x":-4.53,"y":139,"s":"TDOS"},{"x":-4.39,"y":130,"s":"TDOS"},{"x":-4.28,"y":171,"s":"TDOS"},{"x":-4.16,"y":180,"s":"TDOS"},{"x":-4.04,"y":168,"s":"TDOS"},{"x":-3.94,"y":158,"s":"TDOS"},{"x":-3.84,"y":146,"s":"TDOS"},{"x":-3.72,"y":133,"s":"TDOS"},{"x":-3.57,"y":114,"s":"TDOS"},{"x":-3.42,"y":96,"s":"TDOS"},{"x":-3.27,"y":83,"s":"TDOS"},{"x":-3.13,"y":71,"s":"TDOS"},{"x":-2.98,"y":58,"s":"TDOS"},{"x":-2.83,"y":52,"s":"TDOS"},{"x":-2.68,"y":43,"s":"TDOS"},{"x":-2.53,"y":27,"s":"TDOS"},{"x":-2.39,"y":14,"s":"TDOS"},{"x":-2.24,"y":2,"s":"TDOS"},{"x":-2.1,"y":0,"s":"TDOS"},{"x":0.3,"y":0,"s":"TDOS"},{"x":0.43,"y":2,"s":"TDOS"},{"x":0.65,"y":8,"s":"TDOS"},{"x":0.87,"y":21,"s":"TDOS"},{"x":1.02,"y":52,"s":"TDOS"},{"x":1.24,"y":86,"s":"TDOS"},{"x":1.39,"y":74,"s":"TDOS"},{"x":1.54,"y":102,"s":"TDOS"},{"x":1.69,"y":74,"s":"TDOS"},{"x":1.84,"y":105,"s":"TDOS"},{"x":1.99,"y":71,"s":"TDOS"},{"x":2.13,"y":89,"s":"TDOS"},{"x":2.28,"y":99,"s":"TDOS"},{"x":2.43,"y":92,"s":"TDOS"},{"x":2.58,"y":96,"s":"TDOS"},{"x":2.73,"y":83,"s":"TDOS"},{"x":2.87,"y":89,"s":"TDOS"},{"x":3.02,"y":74,"s":"TDOS"},{"x":3.17,"y":80,"s":"TDOS"},{"x":3.32,"y":58,"s":"TDOS"},{"x":3.47,"y":55,"s":"TDOS"},{"x":3.61,"y":58,"s":"TDOS"},{"x":3.76,"y":52,"s":"TDOS"},{"x":3.91,"y":21,"s":"TDOS"},{"x":4.13,"y":9,"s":"TDOS"},{"x":4.36,"y":7,"s":"TDOS"},{"x":4.5,"y":2,"s":"TDOS"},{"x":4.73,"y":0,"s":"TDOS"},{"x":4.9,"y":0,"s":"TDOS"},
  {"x":-5,"y":28,"s":"C (of C-H)"},{"x":-4.8,"y":25,"s":"C (of C-H)"},{"x":-4.6,"y":22,"s":"C (of C-H)"},{"x":-4.4,"y":24,"s":"C (of C-H)"},{"x":-4.25,"y":32,"s":"C (of C-H)"},{"x":-4.1,"y":33,"s":"C (of C-H)"},{"x":-3.95,"y":30,"s":"C (of C-H)"},{"x":-3.8,"y":28,"s":"C (of C-H)"},{"x":-3.6,"y":24,"s":"C (of C-H)"},{"x":-3.4,"y":20,"s":"C (of C-H)"},{"x":-3.2,"y":16,"s":"C (of C-H)"},{"x":-3.0,"y":12,"s":"C (of C-H)"},{"x":-2.8,"y":9,"s":"C (of C-H)"},{"x":-2.6,"y":6,"s":"C (of C-H)"},{"x":-2.4,"y":3,"s":"C (of C-H)"},{"x":-2.2,"y":1,"s":"C (of C-H)"},{"x":-2.0,"y":0,"s":"C (of C-H)"},{"x":0.6,"y":0,"s":"C (of C-H)"},{"x":0.9,"y":4,"s":"C (of C-H)"},{"x":1.1,"y":7,"s":"C (of C-H)"},{"x":1.3,"y":8,"s":"C (of C-H)"},{"x":1.5,"y":10,"s":"C (of C-H)"},{"x":1.7,"y":9,"s":"C (of C-H)"},{"x":1.9,"y":10,"s":"C (of C-H)"},{"x":2.1,"y":9,"s":"C (of C-H)"},{"x":2.3,"y":10,"s":"C (of C-H)"},{"x":2.5,"y":9,"s":"C (of C-H)"},{"x":2.7,"y":8,"s":"C (of C-H)"},{"x":2.9,"y":8,"s":"C (of C-H)"},{"x":3.1,"y":7,"s":"C (of C-H)"},{"x":3.3,"y":6,"s":"C (of C-H)"},{"x":3.5,"y":5,"s":"C (of C-H)"},{"x":3.7,"y":5,"s":"C (of C-H)"},{"x":3.9,"y":2,"s":"C (of C-H)"},{"x":4.1,"y":0,"s":"C (of C-H)"},{"x":4.9,"y":0,"s":"C (of C-H)"},
  {"x":-5,"y":12,"s":"Si (of Si-H/OH)"},{"x":-4.8,"y":13,"s":"Si (of Si-H/OH)"},{"x":-4.6,"y":10,"s":"Si (of Si-H/OH)"},{"x":-4.4,"y":11,"s":"Si (of Si-H/OH)"},{"x":-4.2,"y":9,"s":"Si (of Si-H/OH)"},{"x":-4.0,"y":10,"s":"Si (of Si-H/OH)"},{"x":-3.8,"y":8,"s":"Si (of Si-H/OH)"},{"x":-3.6,"y":6,"s":"Si (of Si-H/OH)"},{"x":-3.4,"y":5,"s":"Si (of Si-H/OH)"},{"x":-3.2,"y":3,"s":"Si (of Si-H/OH)"},{"x":-3.0,"y":2,"s":"Si (of Si-H/OH)"},{"x":-2.7,"y":1,"s":"Si (of Si-H/OH)"},{"x":-2.4,"y":0,"s":"Si (of Si-H/OH)"},{"x":0.5,"y":0,"s":"Si (of Si-H/OH)"},{"x":0.8,"y":4,"s":"Si (of Si-H/OH)"},{"x":1.0,"y":8,"s":"Si (of Si-H/OH)"},{"x":1.2,"y":12,"s":"Si (of Si-H/OH)"},{"x":1.4,"y":14,"s":"Si (of Si-H/OH)"},{"x":1.6,"y":15,"s":"Si (of Si-H/OH)"},{"x":1.8,"y":17,"s":"Si (of Si-H/OH)"},{"x":2.0,"y":16,"s":"Si (of Si-H/OH)"},{"x":2.2,"y":18,"s":"Si (of Si-H/OH)"},{"x":2.4,"y":16,"s":"Si (of Si-H/OH)"},{"x":2.6,"y":17,"s":"Si (of Si-H/OH)"},{"x":2.8,"y":15,"s":"Si (of Si-H/OH)"},{"x":3.0,"y":16,"s":"Si (of Si-H/OH)"},{"x":3.2,"y":14,"s":"Si (of Si-H/OH)"},{"x":3.4,"y":13,"s":"Si (of Si-H/OH)"},{"x":3.6,"y":12,"s":"Si (of Si-H/OH)"},{"x":3.8,"y":8,"s":"Si (of Si-H/OH)"},{"x":4.0,"y":3,"s":"Si (of Si-H/OH)"},{"x":4.2,"y":1,"s":"Si (of Si-H/OH)"},{"x":4.5,"y":0,"s":"Si (of Si-H/OH)"},{"x":4.9,"y":0,"s":"Si (of Si-H/OH)"},
  {"x":-5,"y":30,"s":"-H/OH"},{"x":-4.95,"y":45,"s":"-H/OH"},{"x":-4.85,"y":38,"s":"-H/OH"},{"x":-4.7,"y":22,"s":"-H/OH"},{"x":-4.55,"y":18,"s":"-H/OH"},{"x":-4.4,"y":17,"s":"-H/OH"},{"x":-4.25,"y":22,"s":"-H/OH"},{"x":-4.15,"y":20,"s":"-H/OH"},{"x":-4.0,"y":15,"s":"-H/OH"},{"x":-3.8,"y":12,"s":"-H/OH"},{"x":-3.6,"y":10,"s":"-H/OH"},{"x":-3.4,"y":8,"s":"-H/OH"},{"x":-3.2,"y":6,"s":"-H/OH"},{"x":-3.0,"y":4,"s":"-H/OH"},{"x":-2.8,"y":2,"s":"-H/OH"},{"x":-2.6,"y":1,"s":"-H/OH"},{"x":-2.4,"y":0,"s":"-H/OH"},{"x":0.6,"y":0,"s":"-H/OH"},{"x":0.9,"y":3,"s":"-H/OH"},{"x":1.1,"y":5,"s":"-H/OH"},{"x":1.3,"y":6,"s":"-H/OH"},{"x":1.5,"y":8,"s":"-H/OH"},{"x":1.7,"y":7,"s":"-H/OH"},{"x":1.9,"y":8,"s":"-H/OH"},{"x":2.1,"y":6,"s":"-H/OH"},{"x":2.3,"y":7,"s":"-H/OH"},{"x":2.5,"y":6,"s":"-H/OH"},{"x":2.7,"y":5,"s":"-H/OH"},{"x":2.9,"y":6,"s":"-H/OH"},{"x":3.1,"y":5,"s":"-H/OH"},{"x":3.3,"y":4,"s":"-H/OH"},{"x":3.5,"y":4,"s":"-H/OH"},{"x":3.7,"y":3,"s":"-H/OH"},{"x":3.9,"y":1,"s":"-H/OH"},{"x":4.1,"y":0,"s":"-H/OH"},{"x":4.9,"y":0,"s":"-H/OH"}
 ],
 "c3": [
  {"x":-5,"y":125,"s":"TDOS"},{"x":-4.9,"y":150,"s":"TDOS"},{"x":-4.8,"y":175,"s":"TDOS"},{"x":-4.68,"y":225,"s":"TDOS"},{"x":-4.55,"y":215,"s":"TDOS"},{"x":-4.45,"y":190,"s":"TDOS"},{"x":-4.35,"y":150,"s":"TDOS"},{"x":-4.24,"y":118,"s":"TDOS"},{"x":-4.09,"y":142,"s":"TDOS"},{"x":-3.94,"y":174,"s":"TDOS"},{"x":-3.82,"y":184,"s":"TDOS"},{"x":-3.7,"y":170,"s":"TDOS"},{"x":-3.6,"y":140,"s":"TDOS"},{"x":-3.52,"y":120,"s":"TDOS"},{"x":-3.42,"y":115,"s":"TDOS"},{"x":-3.27,"y":136,"s":"TDOS"},{"x":-3.13,"y":126,"s":"TDOS"},{"x":-2.98,"y":142,"s":"TDOS"},{"x":-2.86,"y":123,"s":"TDOS"},{"x":-2.76,"y":142,"s":"TDOS"},{"x":-2.64,"y":113,"s":"TDOS"},{"x":-2.5,"y":129,"s":"TDOS"},{"x":-2.39,"y":107,"s":"TDOS"},{"x":-2.24,"y":101,"s":"TDOS"},{"x":-2.09,"y":117,"s":"TDOS"},{"x":-1.94,"y":110,"s":"TDOS"},{"x":-1.79,"y":132,"s":"TDOS"},{"x":-1.67,"y":126,"s":"TDOS"},{"x":-1.57,"y":107,"s":"TDOS"},{"x":-1.42,"y":94,"s":"TDOS"},{"x":-1.27,"y":72,"s":"TDOS"},{"x":-1.13,"y":59,"s":"TDOS"},{"x":-0.98,"y":43,"s":"TDOS"},{"x":-0.83,"y":27,"s":"TDOS"},{"x":-0.68,"y":5,"s":"TDOS"},{"x":-0.58,"y":0,"s":"TDOS"},{"x":1.76,"y":0,"s":"TDOS"},{"x":2.06,"y":8,"s":"TDOS"},{"x":2.21,"y":27,"s":"TDOS"},{"x":2.36,"y":85,"s":"TDOS"},{"x":2.5,"y":78,"s":"TDOS"},{"x":2.65,"y":66,"s":"TDOS"},{"x":2.8,"y":82,"s":"TDOS"},{"x":2.95,"y":66,"s":"TDOS"},{"x":3.1,"y":75,"s":"TDOS"},{"x":3.24,"y":53,"s":"TDOS"},{"x":3.36,"y":117,"s":"TDOS"},{"x":3.47,"y":85,"s":"TDOS"},{"x":3.59,"y":53,"s":"TDOS"},{"x":3.76,"y":82,"s":"TDOS"},{"x":3.91,"y":72,"s":"TDOS"},{"x":4.06,"y":59,"s":"TDOS"},{"x":4.21,"y":85,"s":"TDOS"},{"x":4.36,"y":66,"s":"TDOS"},{"x":4.5,"y":78,"s":"TDOS"},{"x":4.65,"y":46,"s":"TDOS"},{"x":4.8,"y":85,"s":"TDOS"},{"x":4.9,"y":88,"s":"TDOS"},
  {"x":-5,"y":5,"s":"C (of C-F)"},{"x":-4.8,"y":7,"s":"C (of C-F)"},{"x":-4.6,"y":9,"s":"C (of C-F)"},{"x":-4.4,"y":7,"s":"C (of C-F)"},{"x":-4.2,"y":5,"s":"C (of C-F)"},{"x":-4.0,"y":6,"s":"C (of C-F)"},{"x":-3.8,"y":3,"s":"C (of C-F)"},{"x":-3.6,"y":2,"s":"C (of C-F)"},{"x":-3.4,"y":3,"s":"C (of C-F)"},{"x":-3.2,"y":4,"s":"C (of C-F)"},{"x":-3.0,"y":5,"s":"C (of C-F)"},{"x":-2.8,"y":7,"s":"C (of C-F)"},{"x":-2.6,"y":12,"s":"C (of C-F)"},{"x":-2.5,"y":18,"s":"C (of C-F)"},{"x":-2.4,"y":15,"s":"C (of C-F)"},{"x":-2.3,"y":20,"s":"C (of C-F)"},{"x":-2.15,"y":22,"s":"C (of C-F)"},{"x":-2.0,"y":25,"s":"C (of C-F)"},{"x":-1.85,"y":30,"s":"C (of C-F)"},{"x":-1.75,"y":33,"s":"C (of C-F)"},{"x":-1.6,"y":28,"s":"C (of C-F)"},{"x":-1.45,"y":30,"s":"C (of C-F)"},{"x":-1.3,"y":24,"s":"C (of C-F)"},{"x":-1.15,"y":15,"s":"C (of C-F)"},{"x":-1.0,"y":8,"s":"C (of C-F)"},{"x":-0.85,"y":3,"s":"C (of C-F)"},{"x":-0.7,"y":0,"s":"C (of C-F)"},{"x":2.0,"y":0,"s":"C (of C-F)"},{"x":2.3,"y":7,"s":"C (of C-F)"},{"x":2.5,"y":9,"s":"C (of C-F)"},{"x":2.7,"y":7,"s":"C (of C-F)"},{"x":2.9,"y":10,"s":"C (of C-F)"},{"x":3.1,"y":8,"s":"C (of C-F)"},{"x":3.35,"y":13,"s":"C (of C-F)"},{"x":3.5,"y":8,"s":"C (of C-F)"},{"x":3.7,"y":9,"s":"C (of C-F)"},{"x":3.9,"y":8,"s":"C (of C-F)"},{"x":4.1,"y":10,"s":"C (of C-F)"},{"x":4.3,"y":8,"s":"C (of C-F)"},{"x":4.5,"y":9,"s":"C (of C-F)"},{"x":4.7,"y":8,"s":"C (of C-F)"},{"x":4.9,"y":12,"s":"C (of C-F)"},
  {"x":-5,"y":4,"s":"Si (of Si-F)"},{"x":-4.7,"y":6,"s":"Si (of Si-F)"},{"x":-4.4,"y":7,"s":"Si (of Si-F)"},{"x":-4.1,"y":3,"s":"Si (of Si-F)"},{"x":-3.8,"y":2,"s":"Si (of Si-F)"},{"x":-3.5,"y":3,"s":"Si (of Si-F)"},{"x":-3.2,"y":4,"s":"Si (of Si-F)"},{"x":-2.9,"y":5,"s":"Si (of Si-F)"},{"x":-2.6,"y":3,"s":"Si (of Si-F)"},{"x":-2.3,"y":6,"s":"Si (of Si-F)"},{"x":-2.0,"y":5,"s":"Si (of Si-F)"},{"x":-1.7,"y":7,"s":"Si (of Si-F)"},{"x":-1.4,"y":5,"s":"Si (of Si-F)"},{"x":-1.1,"y":3,"s":"Si (of Si-F)"},{"x":-0.9,"y":1,"s":"Si (of Si-F)"},{"x":-0.7,"y":0,"s":"Si (of Si-F)"},{"x":2.0,"y":0,"s":"Si (of Si-F)"},{"x":2.3,"y":8,"s":"Si (of Si-F)"},{"x":2.5,"y":10,"s":"Si (of Si-F)"},{"x":2.7,"y":8,"s":"Si (of Si-F)"},{"x":2.9,"y":10,"s":"Si (of Si-F)"},{"x":3.1,"y":9,"s":"Si (of Si-F)"},{"x":3.35,"y":12,"s":"Si (of Si-F)"},{"x":3.5,"y":9,"s":"Si (of Si-F)"},{"x":3.7,"y":10,"s":"Si (of Si-F)"},{"x":3.9,"y":9,"s":"Si (of Si-F)"},{"x":4.1,"y":11,"s":"Si (of Si-F)"},{"x":4.3,"y":9,"s":"Si (of Si-F)"},{"x":4.5,"y":10,"s":"Si (of Si-F)"},{"x":4.7,"y":9,"s":"Si (of Si-F)"},{"x":4.9,"y":13,"s":"Si (of Si-F)"},
  {"x":-5,"y":62,"s":"F"},{"x":-4.79,"y":97,"s":"F"},{"x":-4.64,"y":129,"s":"F"},{"x":-4.49,"y":164,"s":"F"},{"x":-4.34,"y":129,"s":"F"},{"x":-4.19,"y":81,"s":"F"},{"x":-4.09,"y":55,"s":"F"},{"x":-3.97,"y":81,"s":"F"},{"x":-3.82,"y":87,"s":"F"},{"x":-3.67,"y":78,"s":"F"},{"x":-3.55,"y":43,"s":"F"},{"x":-3.37,"y":30,"s":"F"},{"x":-3.22,"y":27,"s":"F"},{"x":-3.07,"y":30,"s":"F"},{"x":-2.93,"y":24,"s":"F"},{"x":-2.78,"y":30,"s":"F"},{"x":-2.63,"y":40,"s":"F"},{"x":-2.55,"y":41,"s":"F"},{"x":-2.45,"y":30,"s":"F"},{"x":-2.33,"y":33,"s":"F"},{"x":-2.18,"y":26,"s":"F"},{"x":-2.03,"y":30,"s":"F"},{"x":-1.88,"y":33,"s":"F"},{"x":-1.73,"y":36,"s":"F"},{"x":-1.58,"y":28,"s":"F"},{"x":-1.43,"y":30,"s":"F"},{"x":-1.28,"y":20,"s":"F"},{"x":-1.13,"y":14,"s":"F"},{"x":-0.99,"y":8,"s":"F"},{"x":-0.84,"y":3,"s":"F"},{"x":-0.69,"y":0,"s":"F"},{"x":2.0,"y":0,"s":"F"},{"x":2.3,"y":5,"s":"F"},{"x":2.5,"y":7,"s":"F"},{"x":2.7,"y":4,"s":"F"},{"x":2.9,"y":7,"s":"F"},{"x":3.1,"y":5,"s":"F"},{"x":3.35,"y":9,"s":"F"},{"x":3.5,"y":4,"s":"F"},{"x":3.7,"y":6,"s":"F"},{"x":3.9,"y":5,"s":"F"},{"x":4.1,"y":7,"s":"F"},{"x":4.3,"y":5,"s":"F"},{"x":4.5,"y":6,"s":"F"},{"x":4.7,"y":4,"s":"F"},{"x":4.9,"y":6,"s":"F"}
 ]
}
}
